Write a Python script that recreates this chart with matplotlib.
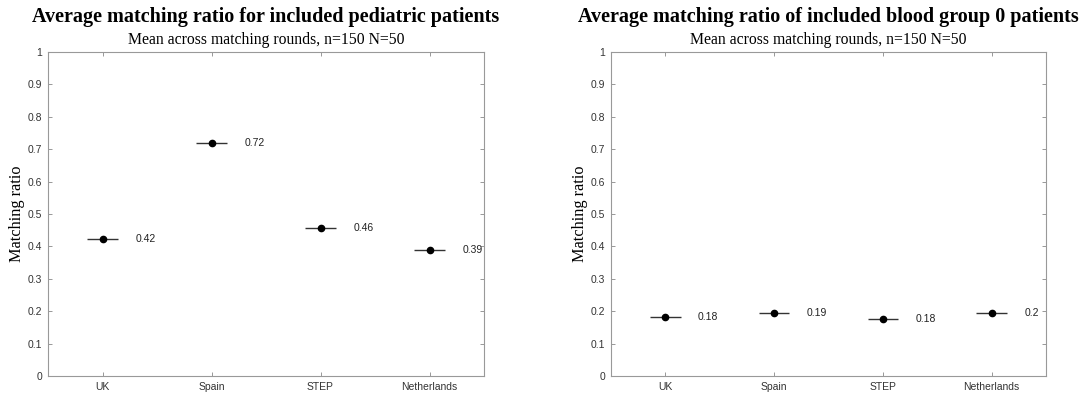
import matplotlib
matplotlib.use("Agg")
import matplotlib.pyplot as plt
import numpy as np

countries = ["UK", "Spain", "STEP", "Netherlands"]
pediatric = [0.423, 0.718, 0.458, 0.389]
pediatric_labels = ["0.42", "0.72", "0.46", "0.39"]
blood0 = [0.183, 0.195, 0.176, 0.195]
blood0_labels = ["0.18", "0.19", "0.18", "0.2"]

titles = ["Average matching ratio for included pediatric patients",
          "Average matching ratio of included blood group 0 patients"]
subtitle = "Mean across matching rounds, n=150 N=50"

fig = plt.figure(figsize=(10.87, 3.99), dpi=100)
W, H = 1087, 399
boxes = [(48, 484), (611, 1046)]
top, bottom = 52, 376

serif = ["Liberation Serif", "DejaVu Serif"]
sans = ["Liberation Sans", "DejaVu Sans"]

for (x0, x1), vals, labs, title in zip(boxes, [pediatric, blood0],
                                        [pediatric_labels, blood0_labels], titles):
    ax = fig.add_axes([x0 / W, 1 - bottom / H, (x1 - x0) / W, (bottom - top) / H])
    xs = np.arange(1, len(countries) + 1)
    ax.errorbar(xs, vals, xerr=0.14, fmt="o", color="black", ecolor="#333333",
                elinewidth=1.0, markersize=4.5, capsize=0)
    for x, v, t in zip(xs, vals, labs):
        ax.text(x + 0.3, v, t, fontsize=7.5, family=sans, va="center", ha="left",
                color="#222222")
    ax.set_xlim(0.5, 4.5)
    ax.set_ylim(0, 1)
    ax.set_xticks(xs)
    ax.set_xticklabels(countries, family=sans, fontsize=7.5, color="#333333")
    ax.set_yticks(np.round(np.arange(0, 1.01, 0.1), 1))
    ax.set_yticklabels(["0"] + [f"{v:.1f}" for v in np.arange(0.1, 0.95, 0.1)] + ["1"],
                       family=sans, fontsize=7.5, color="#333333")
    ax.tick_params(direction="in", top=True, right=True, length=3, width=0.6,
                   color="#888888", pad=4)
    for s in ax.spines.values():
        s.set_color("#999999")
        s.set_linewidth(0.8)
    ax.set_ylabel("Matching ratio", family=serif, fontsize=11.7, labelpad=2)
    cx = (x0 + x1) / 2 / W
    fig.text(cx, 1 - 17 / H, title, family=serif, fontsize=14.5, fontweight="bold",
             ha="center", va="center")
    fig.text(cx, 1 - 40 / H, subtitle, family=serif, fontsize=11.3,
             ha="center", va="center")

fig.savefig("out.png", dpi=100)
